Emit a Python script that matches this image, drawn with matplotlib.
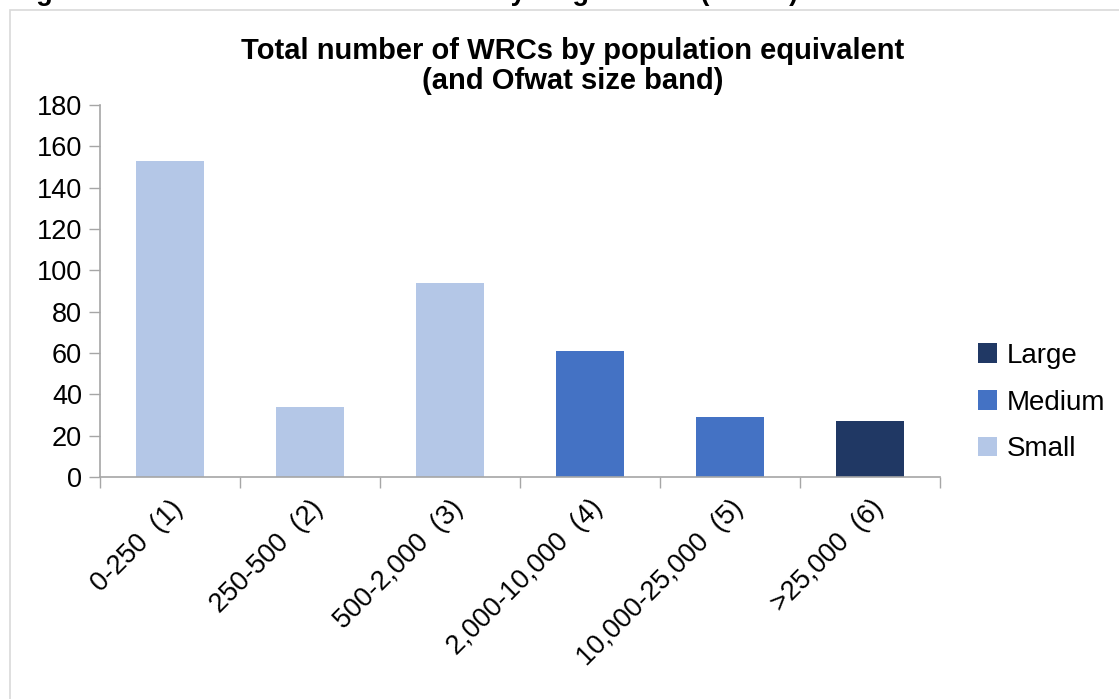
import numpy as np
import matplotlib.pyplot as plt
from matplotlib.patches import Rectangle

plt.rcParams['font.family'] = ['Liberation Sans', 'DejaVu Sans']

categories = ['0-250  (1)', '250-500  (2)', '500-2,000  (3)',
              '2,000-10,000  (4)', '10,000-25,000  (5)', '>25,000  (6)']
large = [0, 0, 0, 0, 0, 27]
medium = [0, 0, 0, 61, 29, 0]
small = [153, 34, 94, 0, 0, 0]
yticks = [0, 20, 40, 60, 80, 100, 120, 140, 160, 180]

W, H = 1119, 699
fig = plt.figure(figsize=(W / 100, H / 100), dpi=100)
ax = fig.add_axes([100 / W, 1 - 477 / H, 840 / W, 372 / H])

# outer chart frame
fig.patches.append(Rectangle((10 / W, -0.05), 1.2, 1 - 10 / H + 0.05,
                             transform=fig.transFigure, fill=False,
                             edgecolor='#D9D9D9', linewidth=1.2))

# caption above the chart, mostly cut off by the page edge
fig.text(12 / W, 1.0 - 0.5 / H, 'Figure 5: Number and size of water recycling centres (WRCs)',
         fontsize=19.5, fontweight='bold', ha='left', va='baseline')

x = np.arange(len(categories))
w = 0.49
ax.bar(x, large, w, color='#203864', label='Large')
ax.bar(x, medium, w, bottom=large, color='#4472C4', label='Medium')
ax.bar(x, small, w, bottom=np.array(large) + np.array(medium), color='#B4C7E7', label='Small')

ax.set_xlim(-0.5, len(categories) - 0.5)
ax.set_ylim(0, 180)
ax.set_yticks(yticks)
ax.tick_params(axis='y', labelsize=19.5, length=8, color='#A6A6A6', width=1, pad=5)

ax.set_xticks(x)
ax.set_xticklabels(categories, rotation=45, ha='right', va='top',
                   rotation_mode='anchor', fontsize=19.5)
ax.tick_params(axis='x', length=0, pad=13)
ax.set_xticks(np.arange(len(categories) + 1) - 0.5, minor=True)
ax.tick_params(axis='x', which='minor', length=8, color='#A6A6A6', width=1)

for s in ['top', 'right']:
    ax.spines[s].set_visible(False)
for s in ['left', 'bottom']:
    ax.spines[s].set_color('#A6A6A6')
    ax.spines[s].set_linewidth(1.2)

fig.text(573 / W, 1 - 66 / H, 'Total number of WRCs by population equivalent\n(and Ofwat size band)',
         fontsize=21, fontweight='bold', ha='center', va='center', linespacing=1.1)

handles, labels = ax.get_legend_handles_labels()
ax.legend(handles, labels, loc='center left', bbox_to_anchor=(1.045, 0.2),
          frameon=False, fontsize=20, handlelength=0.7, handleheight=0.7,
          handletextpad=0.35, labelspacing=0.75, borderpad=0, borderaxespad=0)

plt.savefig('out.png', dpi=100)
